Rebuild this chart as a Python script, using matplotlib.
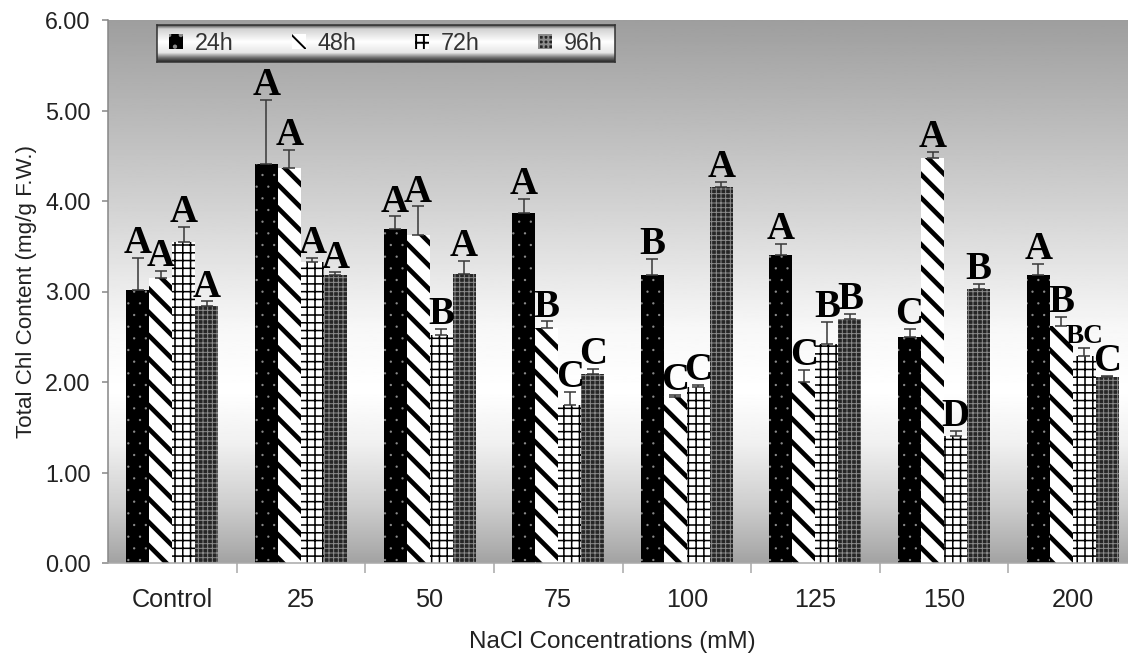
import numpy as np
import matplotlib.pyplot as plt
from matplotlib.ticker import FormatStrFormatter

plt.rcParams['font.family'] = ['Liberation Sans', 'DejaVu Sans']

# data
categories = ['Control', '25', '50', '75', '100', '125', '150', '200']
series = ['24h', '48h', '72h', '96h']

h24 = [3.02, 4.41, 3.69, 3.87, 3.18, 3.40, 2.50, 3.18]
h48 = [3.15, 4.36, 3.62, 2.60, 1.83, 2.00, 4.48, 2.62]
h72 = [3.55, 3.33, 2.52, 1.75, 1.95, 2.42, 1.40, 2.29]
h96 = [2.84, 3.18, 3.19, 2.09, 4.16, 2.70, 3.03, 2.05]

e24 = [0.35, 0.71, 0.14, 0.15, 0.18, 0.13, 0.09, 0.12]
e48 = [0.08, 0.20, 0.32, 0.07, 0.03, 0.13, 0.06, 0.10]
e72 = [0.16, 0.04, 0.07, 0.14, 0.02, 0.24, 0.06, 0.09]
e96 = [0.05, 0.03, 0.15, 0.05, 0.05, 0.05, 0.05, 0.02]

l24 = ['A', 'A', 'A', 'A', 'B', 'A', 'C', 'A']
l48 = ['A', 'A', 'A', 'B', 'C', 'C', 'A', 'B']
l72 = ['A', 'A', 'B', 'C', 'C', 'B', 'D', 'BC']
l96 = ['A', 'A', 'A', 'C', 'A', 'B', 'B', 'C']

# bar looks: face, hatch colour, hatch, hatch linewidth
styles = [
    ('black', '#8a8a8a', '..', 0.0),
    ('white', 'black', '\\\\', 2.4),
    ('white', 'black', '+++', 0.8),
    ('#262626', '#8c8c8c', '+++++', 0.5),
]

W, H, DPI = 1128, 654, 140
fig = plt.figure(figsize=(W / DPI, H / DPI), dpi=DPI)
ax = fig.add_axes([108 / W, 91 / H, 1029 / W, 543 / H])

# grey-white-grey background
yy = np.linspace(0, 6, 400)
shade = np.interp(yy, [0, 0.6, 1.3, 1.9, 2.6, 4.0, 6.0],
                  [0.64, 0.8, 0.94, 1.0, 0.97, 0.82, 0.62])
ax.imshow(shade[::-1, None], extent=[-0.5, 7.5, 0, 6], aspect='auto',
          cmap='gray', vmin=0, vmax=1, zorder=0)

x = np.arange(len(categories))
bw = 0.179
handles = []
for i, (vals, errs, labs) in enumerate(zip([h24, h48, h72, h96],
                                           [e24, e48, e72, e96],
                                           [l24, l48, l72, l96])):
    fc, hc, hatch, hlw = styles[i]
    pos = x + (i - 1.5) * bw
    with plt.rc_context({'hatch.linewidth': hlw}):
        bars = ax.bar(pos, vals, bw, facecolor=fc, edgecolor=hc, hatch=hatch,
                      linewidth=0, zorder=2)
    for b in bars:
        if hasattr(b, 'set_hatch_linewidth'):
            b.set_hatch_linewidth(hlw)
    handles.append(bars)
    ax.errorbar(pos, vals, yerr=[np.zeros(len(errs)), errs], fmt='none',
                ecolor='#3a3a3a', elinewidth=0.8, capsize=3, capthick=0.8,
                zorder=3)
    for p, v, e, t in zip(pos, vals, errs, labs):
        ax.annotate(t, (p, v + e), xytext=(0, 2.5), textcoords='offset points',
                    ha='center', va='baseline', family='Liberation Serif',
                    fontweight='bold', fontsize=20 if len(t) == 1 else 14,
                    color='black', zorder=4)

ax.set_xlim(-0.5, 7.5)
ax.set_ylim(0, 6)
ax.set_xticks(x, categories)
ax.set_xticks(np.arange(0.5, 7.5, 1), minor=True)
ax.tick_params(axis='x', which='major', length=0, pad=13, labelsize=13,
               labelcolor='#222222')
ax.tick_params(axis='x', which='minor', length=5, color='#aaaaaa', width=0.8)
ax.set_yticks(np.arange(0, 7, 1))
ax.yaxis.set_major_formatter(FormatStrFormatter('%.2f'))
ax.tick_params(axis='y', length=3, color='#888888', pad=6, labelsize=12,
               labelcolor='#222222')
for s in ['top', 'right']:
    ax.spines[s].set_visible(False)
ax.spines['left'].set_color('#888888')
ax.spines['bottom'].set_color('#aaaaaa')

ax.set_xlabel('NaCl Concentrations (mM)', fontsize=12.5, color='#222222')
ax.xaxis.set_label_coords(0.49, -0.125)
ax.set_ylabel('Total Chl Content (mg/g F.W.)', fontsize=11.5, color='#222222',
              labelpad=4)

# legend strip with a shiny gradient
lax = fig.add_axes([157 / W, (H - 62) / H, 458 / W, 37 / H], zorder=5)
lg = np.interp(np.linspace(0, 1, 100), [0, 0.1, 0.45, 0.75, 0.88, 1],
               [0.3, 0.82, 1.0, 0.9, 0.45, 0.15])
lax.imshow(lg[:, None], extent=[0, 1, 0, 1], aspect='auto', cmap='gray',
           vmin=0, vmax=1)
lax.set_xticks([])
lax.set_yticks([])
for s in lax.spines.values():
    s.set_color('#333333')
    s.set_linewidth(0.8)
lax.legend(handles, series, loc='center', ncol=4, frameon=False,
           fontsize=12, handlelength=0.6, handleheight=0.6,
           handletextpad=0.5, columnspacing=2.5, labelcolor='#333333',
           borderaxespad=0)

fig.savefig('out.png', dpi=DPI)
